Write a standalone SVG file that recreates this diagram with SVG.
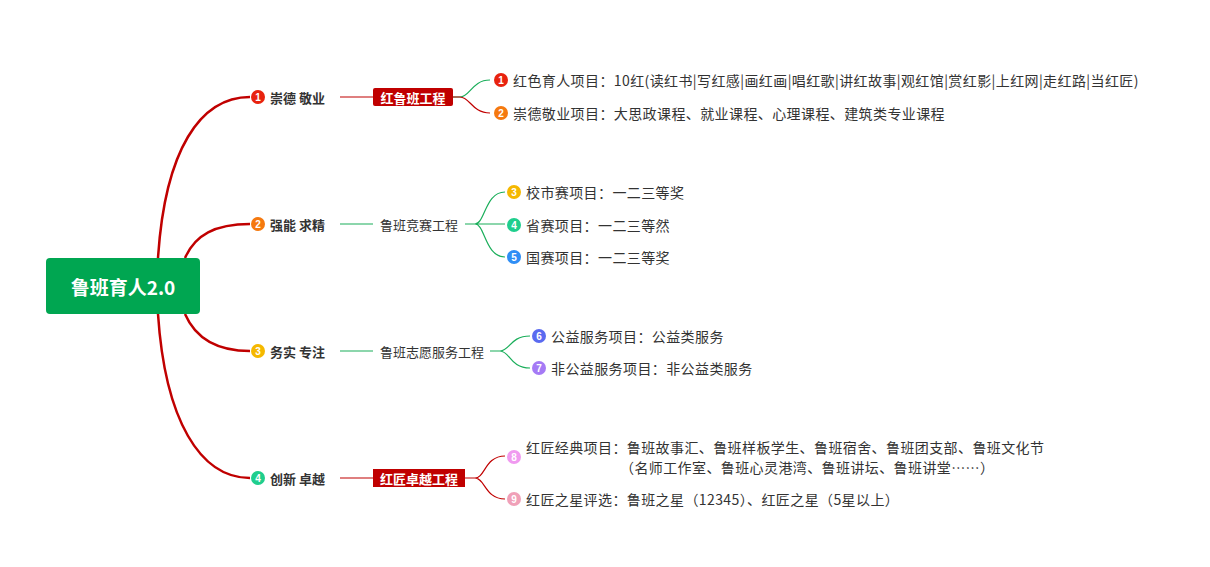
<svg xmlns="http://www.w3.org/2000/svg" width="1210" height="567" viewBox="0 0 1210 567">
<style>
text{font-family:"Noto Sans CJK SC","Liberation Sans",sans-serif;font-size:14px;letter-spacing:0.4px;fill:#333;dominant-baseline:central}
.b{font-weight:bold;font-size:13px;letter-spacing:0}
.w{fill:#fff;font-weight:bold;font-size:13px;letter-spacing:0}
.n{fill:#fff;font-size:10px;font-weight:bold;text-anchor:middle;font-family:"Liberation Sans",sans-serif;letter-spacing:0}
.r{fill:none;stroke:#c00000;stroke-width:2.5}
.rt{fill:none;stroke:#c00000;stroke-width:1.2}
.g{fill:none;stroke:#1aae5a;stroke-width:1.2}
</style>
<rect width="1210" height="567" fill="#fff"/>
<g id="connectors">
<path class="r" d="M158 258 C165 150 200 97 250 97"/>
<path class="r" d="M185 258 C195 235 215 224 250 224"/>
<path class="r" d="M185 314 C195 337 215 351 250 351"/>
<path class="r" d="M158 314 C165 420 200 478 250 478"/>
<path class="rt" d="M340 97 H373"/>
<path class="g" d="M453 97 H460 C470 97 472 80 490 80"/>
<path class="rt" d="M453 97 H460 C470 97 472 113 490 113"/>
<path class="g" d="M340 224 H373"/>
<path class="g" d="M465 224 H475 C485 224 485 192 505 192 M475 224 H505 M475 224 C485 224 485 257 505 257"/>
<path class="g" d="M340 351 H373"/>
<path class="g" d="M490 351 H500 C510 351 510 336 530 336 M500 351 C510 351 510 368 530 368"/>
<path class="rt" d="M340 478 H373"/>
<path class="rt" d="M465 478 H475 C485 478 485 456 505 456 M475 478 C485 478 485 499 505 499"/>
</g>
<g id="root"><rect x="46" y="258" width="154" height="56" rx="4" fill="#00a651"/><text x="123" y="286" text-anchor="middle" class="w" style="font-size:19px">鲁班育人2.0</text></g>
<g id="b1"><circle cx="258" cy="97" r="7" fill="#e8230f"/><text x="258" y="97" class="n">1</text><text x="270" y="97" class="b">崇德 敬业</text></g>
<g id="b2"><circle cx="258" cy="224" r="7" fill="#f5790f"/><text x="258" y="224" class="n">2</text><text x="270" y="224" class="b">强能 求精</text></g>
<g id="b3"><circle cx="258" cy="351" r="7" fill="#f5b800"/><text x="258" y="351" class="n">3</text><text x="270" y="351" class="b">务实 专注</text></g>
<g id="b4"><circle cx="258" cy="478" r="7" fill="#1fce8d"/><text x="258" y="478" class="n">4</text><text x="270" y="478" class="b">创新 卓越</text></g>
<g id="p1"><rect x="373" y="88" width="80" height="18" rx="2" fill="#c00000"/><text x="413" y="97" text-anchor="middle" class="w">红鲁班工程</text></g>
<g id="p2"><text x="380" y="224" style="font-size:13px;letter-spacing:0">鲁班竞赛工程</text></g>
<g id="p3"><text x="380" y="351" style="font-size:13px;letter-spacing:0">鲁班志愿服务工程</text></g>
<g id="p4"><rect x="373" y="469" width="92" height="18" fill="#c00000"/><text x="419" y="478" text-anchor="middle" class="w">红匠卓越工程</text></g>
<g id="c1"><circle cx="501" cy="80" r="7" fill="#e8230f"/><text x="501" y="80" class="n">1</text><text x="513" y="80">红色育人项目：10红(读红书|写红感|画红画|唱红歌|讲红故事|观红馆|赏红影|上红网|走红路|当红匠)</text></g>
<g id="c2"><circle cx="501" cy="113" r="7" fill="#f5790f"/><text x="501" y="113" class="n">2</text><text x="513" y="113">崇德敬业项目：大思政课程、就业课程、心理课程、建筑类专业课程</text></g>
<g id="c3"><circle cx="514" cy="192" r="7" fill="#f5b800"/><text x="514" y="192" class="n">3</text><text x="526" y="192">校市赛项目：一二三等奖</text></g>
<g id="c4"><circle cx="514" cy="225" r="7" fill="#1fce8d"/><text x="514" y="225" class="n">4</text><text x="526" y="225">省赛项目：一二三等然</text></g>
<g id="c5"><circle cx="514" cy="257" r="7" fill="#2f8ef5"/><text x="514" y="257" class="n">5</text><text x="526" y="257">国赛项目：一二三等奖</text></g>
<g id="c6"><circle cx="539" cy="336" r="7" fill="#5a6af0"/><text x="539" y="336" class="n">6</text><text x="551" y="336">公益服务项目：公益类服务</text></g>
<g id="c7"><circle cx="539" cy="368" r="7" fill="#a57af5"/><text x="539" y="368" class="n">7</text><text x="551" y="368">非公益服务项目：非公益类服务</text></g>
<g id="c8"><circle cx="514" cy="457" r="7" fill="#f09af0"/><text x="514" y="457" class="n">8</text><text x="526" y="447">红匠经典项目：鲁班故事汇、鲁班样板学生、鲁班宿舍、鲁班团支部、鲁班文化节</text><text x="620" y="467">（名师工作室、鲁班心灵港湾、鲁班讲坛、鲁班讲堂……）</text></g>
<g id="c9"><circle cx="514" cy="499" r="7" fill="#f0a0b8"/><text x="514" y="499" class="n">9</text><text x="526" y="499">红匠之星评选：鲁班之星（12345）、红匠之星（5星以上）</text></g>
</svg>
